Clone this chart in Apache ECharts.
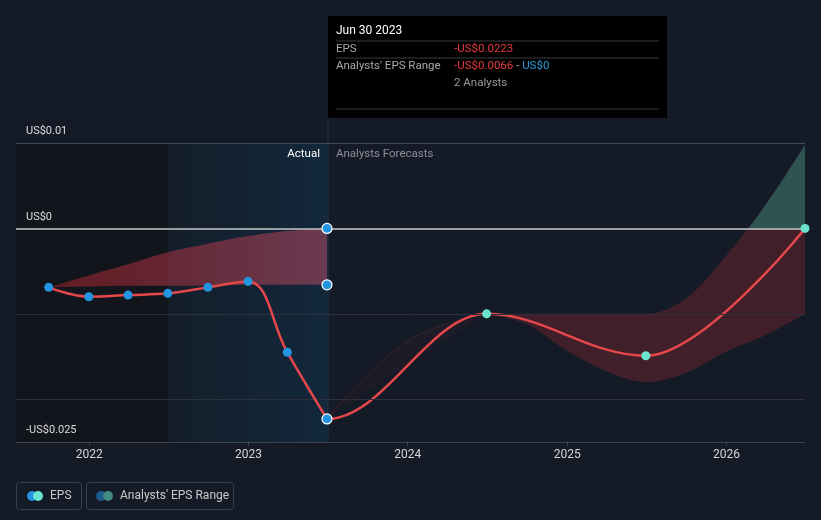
<!DOCTYPE html>
<html>
<head>
<meta charset="utf-8">
<script src="https://cdn.jsdelivr.net/npm/echarts@6/dist/echarts.min.js"></script>
<style>
html,body{margin:0;padding:0;background:#151b26;}
#c{width:821px;height:520px;}
</style>
</head>
<body>
<div id="c"></div>
<script>
// ---- data ----
const years = [2022, 2023, 2024, 2025, 2026];
const yLabelValues = [-0.025, 0, 0.01];
const gridValues = [-0.02, -0.01, 0.01];
const pastDates = ['2021-09-30', '2021-12-31', '2022-03-31', '2022-06-30', '2022-09-30', '2022-12-31', '2023-03-31', '2023-06-30'];
const pastEps = [-0.0069, -0.0080, -0.0078, -0.0076, -0.0069, -0.0062, -0.0145, -0.0223];
const pastRangeLow = [-0.0069, -0.0068, -0.0067, -0.0067, -0.0067, -0.0066, -0.0066, -0.0066];
const pastRangeHigh = [-0.0069, -0.0055, -0.0042, -0.0028, -0.0018, -0.0009, -0.0003, 0];
const forecastDates = ['2023-06-30', '2024-06-30', '2025-06-30', '2026-06-30'];
const forecastEps = [-0.0223, -0.0100, -0.0149, 0];
// analysts' range, first year (very faint) and later years
const rangeDatesA = ['2023-06-30', '2023-12-31', '2024-06-30'];
const rangeLowA = [-0.0223, -0.0160, -0.0100];
const rangeHighA = [-0.0223, -0.0132, -0.0100];
const rangeDatesB = ['2024-06-30', '2024-09-30', '2024-12-31', '2025-03-31', '2025-06-30', '2025-09-30', '2025-12-31', '2026-03-31', '2026-06-30'];
const rangeLowB = [-0.0100, -0.0112, -0.0143, -0.0167, -0.0180, -0.0169, -0.0144, -0.0125, -0.0100];
const rangeHighB = [-0.0100, -0.0100, -0.0100, -0.0100, -0.0100, -0.0082, -0.0032, 0.0027, 0.0098];
const highlightDate = '2023-06-30';
const highlightRange = [0, -0.0066];
const xMin = '2021-07-17', xMax = '2026-06-30';
const actualStart = '2022-06-30', actualEnd = '2023-06-30';

const FONT = 'Roboto';
const RED = '#e5474b';
const zip = (xs, ys) => xs.map((x, i) => [x, ys[i]]);
const diff = (hi, lo) => hi.map((v, i) => +(v - lo[i]).toFixed(6));
const ts = s => { const p = s.split('-').map(Number); return new Date(p[0], p[1] - 1, p[2]).getTime(); };
const yearStamps = years.map(y => new Date(y, 0, 1).getTime());
const W = 821, H = 520;

function fmt(v) {
  if (Math.abs(v) < 1e-12) return 'US$0';
  return (v < 0 ? '-' : '') + 'US$' + Math.abs(v);
}

const chart = echarts.init(document.getElementById('c'), null, {renderer: 'canvas'});

const bandBase = (id, stack, dates, low, smooth) => ({
  id: id, type: 'line', xAxisIndex: 1, stack: stack, stackStrategy: 'all',
  data: zip(dates, low), smooth: smooth, symbol: 'none',
  lineStyle: {opacity: 0}, silent: true, z: 1
});
const bandFill = (id, stack, dates, high, low, smooth, area, line) => ({
  id: id, type: 'line', xAxisIndex: 1, stack: stack, stackStrategy: 'all',
  data: zip(dates, diff(high, low)), smooth: smooth, symbol: 'none',
  lineStyle: line || {opacity: 0}, silent: true, z: 1,
  areaStyle: {opacity: 1, color: area}
});

// last actual point joins the forecast curve so it leaves the low point flat
const fcLineDates = [pastDates[pastDates.length - 2]].concat(forecastDates);
const fcLineValues = [pastEps[pastEps.length - 2]].concat(forecastEps);

const option = {
  backgroundColor: '#151b26',
  animation: false,
  grid: {left: 16, right: 16, top: 143, bottom: 78},
  xAxis: [
    {
      type: 'value', min: ts(xMin), max: ts(xMax), z: 10,
      splitLine: {show: false},
      axisLine: {show: true, onZero: false, lineStyle: {color: '#3d434e', width: 1}},
      axisTick: {show: true, customValues: yearStamps, length: 4, lineStyle: {color: '#3d434e'}},
      axisLabel: {customValues: yearStamps, color: '#d6d6d6', fontFamily: FONT, fontSize: 12, margin: 7,
        formatter: v => String(new Date(v).getFullYear())}
    },
    {type: 'time', min: xMin, max: xMax, show: false}
  ],
  yAxis: {
    type: 'value', min: -0.025, max: 0.01, z: 10,
    splitLine: {show: false},
    axisLine: {show: false}, axisTick: {show: false},
    axisLabel: {
      customValues: yLabelValues, inside: true, margin: 10,
      color: '#dcdcdc', fontFamily: FONT, fontSize: 11,
      verticalAlign: 'bottom', padding: [0, 0, 6, 0],
      formatter: fmt
    }
  },
  series: [
    {
      id: 'bg', type: 'line', xAxisIndex: 1, data: [], silent: true, z: 0,
      markArea: {
        silent: true,
        data: [
          [{xAxis: xMin, itemStyle: {color: '#12151c'}}, {xAxis: actualStart}],
          [{xAxis: actualStart, itemStyle: {color: {type: 'linear', x: 0, y: 0, x2: 1, y2: 0,
            colorStops: [{offset: 0, color: '#141e2a'}, {offset: 1, color: '#12283b'}]}}}, {xAxis: actualEnd}]
        ]
      },
      markLine: {
        silent: true, symbol: 'none', label: {show: false},
        data: gridValues.map(v => ({yAxis: v, lineStyle: {color: v > 0 ? '#454b56' : '#2c313b', width: 1, type: 'solid'}}))
          .concat([{yAxis: 0, lineStyle: {color: '#c9c9c9', width: 1.5, type: 'solid'}}])
      }
    },
    bandBase('pastLow', 'past', pastDates, pastRangeLow, 0.4),
    bandFill('pastBand', 'past', pastDates, pastRangeHigh, pastRangeLow, 0.4,
      {type: 'linear', x: 0, y: 0, x2: 1, y2: 0,
        colorStops: [{offset: 0, color: 'rgba(150,32,38,0.6)'}, {offset: 1, color: 'rgba(160,70,95,0.62)'}]}),
    bandBase('fcALow', 'fcA', rangeDatesA, rangeLowA, 0.4),
    bandFill('fcABand', 'fcA', rangeDatesA, rangeHighA, rangeLowA, 0.4, 'rgba(110,40,50,0.08)',
      {color: 'rgba(120,45,55,0.35)', width: 1}),
    bandBase('fcBLow', 'fcB', rangeDatesB, rangeLowB, 0.35),
    bandFill('fcBBand', 'fcB', rangeDatesB, rangeHighB, rangeLowB, 0.35, 'rgba(100,35,45,0.55)'),
    {
      id: 'epsPast', type: 'line', xAxisIndex: 1, smooth: 0.4,
      symbol: 'circle', symbolSize: 9,
      lineStyle: {color: RED, width: 2.5},
      itemStyle: {color: '#2394df', opacity: 1},
      data: zip(pastDates, pastEps).map((p, i, a) => i === a.length - 1
        ? {value: p, symbolSize: 10, itemStyle: {color: '#2394df', borderColor: '#ffffff', borderWidth: 1.2}}
        : {value: p}),
      z: 5
    },
    {
      id: 'epsForecast', type: 'line', xAxisIndex: 1, smooth: 0.36, smoothMonotone: 'x',
      showSymbol: false, symbol: 'none',
      lineStyle: {color: RED, width: 2.5},
      data: zip(fcLineDates, fcLineValues),
      z: 4
    },
    {
      id: 'epsForecastPts', type: 'scatter', xAxisIndex: 1,
      data: zip(forecastDates.slice(1), forecastEps.slice(1)),
      symbolSize: 9, itemStyle: {color: '#6ce3cf', opacity: 1}, z: 6
    },
    {
      id: 'rangeHighlight', type: 'scatter', xAxisIndex: 1,
      data: highlightRange.map(v => [highlightDate, v]),
      symbolSize: 10,
      itemStyle: {color: '#2394df', borderColor: '#ffffff', borderWidth: 1.2, opacity: 1},
      z: 6
    }
  ]
};

chart.setOption(option);

const zeroY = chart.convertToPixel({yAxisIndex: 0}, 0);
const xH = chart.convertToPixel({xAxisIndex: 1}, highlightDate);
const offY = zeroY / H, offX = xH / W;
chart.setOption({
  series: [
    {id: 'fcBBand', areaStyle: {opacity: 1, color: {type: 'linear', x: 0, y: 0, x2: 0, y2: H, global: true,
      colorStops: [
        {offset: 0, color: 'rgba(63,117,111,0.62)'},
        {offset: offY, color: 'rgba(63,117,111,0.62)'},
        {offset: offY, color: 'rgba(100,35,45,0.55)'},
        {offset: 1, color: 'rgba(100,35,45,0.55)'}
      ]}}},
    {id: 'epsForecast', lineStyle: {width: 2.5, color: {type: 'linear', x: 0, y: 0, x2: W, y2: 0, global: true,
      colorStops: [
        {offset: 0, color: 'rgba(229,71,75,0)'},
        {offset: offX, color: 'rgba(229,71,75,0)'},
        {offset: offX, color: RED},
        {offset: 1, color: RED}
      ]}}}
  ]
});

const gridTop = chart.convertToPixel({yAxisIndex: 0}, 0.01);
const gridBottom = chart.convertToPixel({yAxisIndex: 0}, -0.025);

const tipX = Math.round(xH) + 1, tipY = 16, tipW = 339, tipH = 102;
function txt(x, y, text, color, size, align) {
  return {type: 'text', x: x, y: y, z: 20,
    style: {text: text, fill: color, font: (size || 11.5) + 'px ' + FONT, align: align || 'left', verticalAlign: 'middle'}};
}

chart.setOption({
  graphic: [
    {type: 'line', shape: {x1: tipX, y1: tipY + tipH, x2: tipX, y2: gridBottom},
      style: {stroke: '#1f3b55', lineWidth: 1}, z: 3, silent: true},
    {type: 'rect', shape: {x: tipX, y: tipY, width: tipW, height: tipH}, style: {fill: '#000000'}, z: 19},
    txt(tipX + 8, 31, 'Jun 30 2023', '#ffffff', 12),
    {type: 'line', z: 20, shape: {x1: tipX + 8, y1: 41, x2: tipX + tipW - 8, y2: 41}, style: {stroke: '#3a3a3a'}},
    txt(tipX + 8, 49, 'EPS', '#a9a9a9', 11.5),
    txt(tipX + 126, 49, '-US$0.0223', '#e5393e', 11.5),
    {type: 'line', z: 20, shape: {x1: tipX + 8, y1: 58, x2: tipX + tipW - 8, y2: 58}, style: {stroke: '#3a3a3a'}},
    txt(tipX + 8, 66, "Analysts' EPS Range", '#a9a9a9', 11.5),
    {type: 'text', x: tipX + 126, y: 66, z: 20, style: {
      text: '{r|-US$0.0066}{g| - }{b|US$0}', verticalAlign: 'middle', font: '11.5px ' + FONT,
      rich: {r: {fill: '#e5393e', font: '11.5px ' + FONT}, g: {fill: '#a9a9a9', font: '11.5px ' + FONT},
             b: {fill: '#2a9be0', font: '11.5px ' + FONT}}}},
    txt(tipX + 126, 83, '2 Analysts', '#9a9a9a', 11.5),
    {type: 'line', z: 20, shape: {x1: tipX + 8, y1: 109, x2: tipX + tipW - 8, y2: 109}, style: {stroke: '#3a3a3a'}},

    txt(xH - 7, gridTop + 11, 'Actual', '#ffffff', 11.5, 'right'),
    txt(xH + 9, gridTop + 11, 'Analysts Forecasts', '#8a8f98', 11.5),

    // legend
    {type: 'rect', z: 20, shape: {x: 16.5, y: 482.5, width: 65, height: 27, r: 3}, style: {fill: 'none', stroke: '#3a404b', lineWidth: 1}},
    {type: 'circle', z: 20, shape: {cx: 32, cy: 496, r: 5}, style: {fill: '#2394df'}},
    {type: 'circle', z: 21, shape: {cx: 38, cy: 496, r: 5}, style: {fill: '#6ce3cf'}},
    txt(50, 496, 'EPS', '#c9c9c9', 12),
    {type: 'rect', z: 20, shape: {x: 86.5, y: 482.5, width: 147, height: 27, r: 3}, style: {fill: 'none', stroke: '#3a404b', lineWidth: 1}},
    {type: 'circle', z: 20, shape: {cx: 101, cy: 496, r: 5}, style: {fill: '#1f5c8c'}},
    {type: 'circle', z: 21, shape: {cx: 108, cy: 496, r: 5}, style: {fill: '#3f8a84'}},
    txt(120, 496, "Analysts' EPS Range", '#c9c9c9', 12)
  ]
});
</script>
</body>
</html>
